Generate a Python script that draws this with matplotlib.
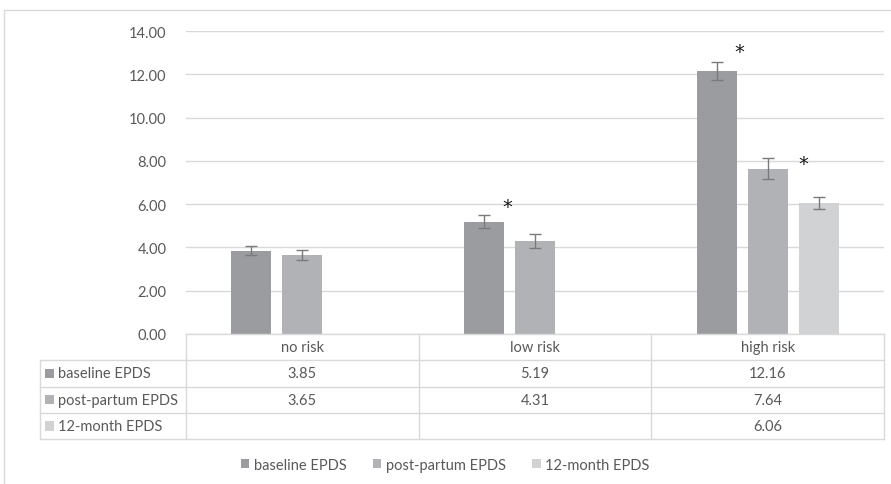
import matplotlib.pyplot as plt
from matplotlib.patches import Rectangle
import numpy as np

plt.rcParams['font.family'] = ['Lato', 'DejaVu Sans']

# data
categories = ["no risk", "low risk", "high risk"]
series = ["baseline EPDS", "post-partum EPDS", "12-month EPDS"]
baseline = [3.85, 5.19, 12.16]
postpartum = [3.65, 4.31, 7.64]
month12 = [None, None, 6.06]
baseline_err = [0.22, 0.30, 0.42]
postpartum_err = [0.22, 0.33, 0.47]
month12_err = [None, None, 0.29]
yticks = [0, 2, 4, 6, 8, 10, 12, 14]
# significance stars: (category index, series index, y value)
stars = [(1, 0, 6.1), (2, 0, 13.25), (2, 1, 8.1)]
star_dx = [0.012, 0.01, 0.068]  # horizontal nudge past the bar edge

colors = ["#9b9c9f", "#b1b2b5", "#d1d2d4"]
text_c = "#595959"
grid_c = "#d9d9d9"

W, H = 891, 485
fig = plt.figure(figsize=(W / 100, H / 100), dpi=100)

def px_box(l, t, r, b):
    return [l / W, 1 - b / H, (r - l) / W, (b - t) / H]

# outer frame
fig.patches.append(Rectangle((4 / W, -0.1), 1.2, 1 - 11 / H + 0.1, transform=fig.transFigure,
                             fill=False, edgecolor=grid_c, lw=1))

ax = fig.add_axes(px_box(186, 32, 884, 335))
x = np.arange(len(categories))
slot = 0.219
bw = 0.172
all_vals = [baseline, postpartum, month12]
all_errs = [baseline_err, postpartum_err, month12_err]
for i, (vals, errs) in enumerate(zip(all_vals, all_errs)):
    xs = [x[j] + (i - 1) * slot for j in range(len(vals)) if vals[j] is not None]
    vs = [v for v in vals if v is not None]
    es = [e for e in errs if e is not None]
    ax.bar(xs, vs, width=bw, color=colors[i], zorder=2, label=series[i])
    ax.errorbar(xs, vs, yerr=es, fmt="none", ecolor="#7a7a7a", elinewidth=1,
                capsize=4, capthick=1, zorder=3)

# asterisk glyph sits high in its box, so nudge it down a little
for (ci, si, yv), dx in zip(stars, star_dx):
    ax.text(x[ci] + (si - 1) * slot + bw / 2 + dx, yv - 0.2, "*", ha="center", va="center",
            fontsize=14, color="#1a1a1a", family="DejaVu Sans", zorder=4)

ax.set_xlim(-0.5, 2.5)
ax.set_ylim(0, 14)
ax.set_yticks(yticks)
ax.set_yticklabels([f"{v:.2f}" for v in yticks], color=text_c, fontsize=10.5)
ax.yaxis.grid(True, color=grid_c, lw=1, zorder=0)
ax.set_axisbelow(True)
ax.set_xticks([])
for s in ["top", "right", "left", "bottom"]:
    ax.spines[s].set_visible(False)
ax.tick_params(axis="y", length=0, pad=14)

# data table below the chart
tax = fig.add_axes(px_box(40, 335, 884, 440))
left = -0.5 - (186 - 40) / (698 / 3)
tax.set_xlim(left, 2.5)
tax.set_ylim(4, 0)
tax.axis("off")
lk = dict(color=grid_c, lw=1, clip_on=False)
tax.plot([-0.5, 2.5], [0, 0], **lk)
for r in [1, 2, 3, 4]:
    tax.plot([left, 2.5], [r, r], **lk)
for xv in [-0.5, 0.5, 1.5, 2.5]:
    tax.plot([xv, xv], [0, 4], **lk)
tax.plot([left, left], [1, 4], **lk)
for j, c in enumerate(categories):
    tax.text(x[j], 0.5, c, ha="center", va="center", color=text_c, fontsize=10.5)
for i, vals in enumerate(all_vals):
    tax.add_patch(Rectangle((left + 0.022, i + 1.32), 0.04, 0.36, color=colors[i], lw=0))
    tax.text(left + 0.078, i + 1.5, series[i], ha="left", va="center", color=text_c, fontsize=10.5)
    for j, v in enumerate(vals):
        if v is not None:
            tax.text(x[j], i + 1.5, f"{v:.2f}", ha="center", va="center", color=text_c, fontsize=10.5)

handles, labels = ax.get_legend_handles_labels()
fig.legend(handles, labels, loc="center", bbox_to_anchor=(445 / W, 1 - 466 / H), ncol=3,
           frameon=False, fontsize=10.5, handlelength=0.6, handleheight=0.6,
           handletextpad=0.3, columnspacing=1.8, labelcolor=text_c)

fig.savefig("out.png", dpi=100)
